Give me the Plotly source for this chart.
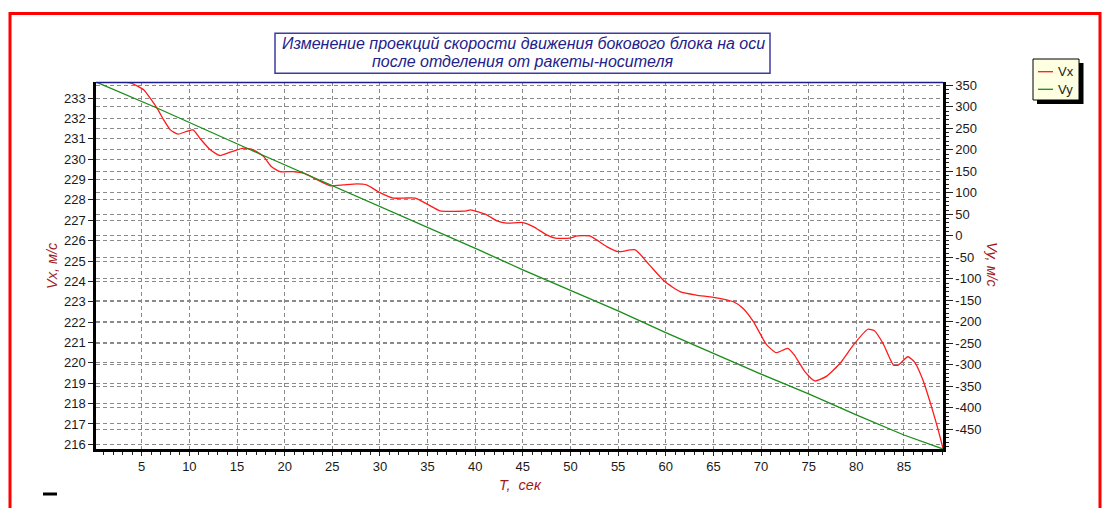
import plotly.graph_objects as go

# ---------------- data ----------------
t_vx = [3.1, 3.9, 5.2, 6.0, 6.7, 7.3, 8.0, 8.8, 9.7, 10.4, 11.1, 12.2, 13.2, 14.3,
        15.7, 16.7, 17.8, 18.6, 19.5, 20.9, 22.0, 23.4, 24.8, 26.2, 27.6, 28.6,
        30.0, 31.4, 32.5, 33.7, 35.1, 36.3, 39.1, 39.5, 41.2, 42.3, 43.3, 45.0,
        46.1, 47.5, 48.4, 49.9, 50.7, 52.0, 52.7, 53.8, 55.0, 56.8, 58.3, 59.9,
        61.5, 63.2, 65.0, 67.1, 68.1, 69.2, 70.6, 71.6, 72.8, 73.5, 74.6, 75.65,
        76.9, 78.3, 79.7, 81.2, 81.9, 82.8, 83.9, 84.4, 85.4, 86.1, 87.0, 87.9,
        88.6, 89.1]
vx = [233.79, 233.74, 233.41, 232.92, 232.43, 231.93, 231.44, 231.23, 231.36,
      231.44, 231.03, 230.46, 230.18, 230.35, 230.54, 230.46, 230.13, 229.64,
      229.39, 229.39, 229.31, 228.99, 228.69, 228.74, 228.79, 228.74, 228.36,
      228.09, 228.09, 228.09, 227.76, 227.46, 227.46, 227.51, 227.27, 226.97,
      226.86, 226.89, 226.69, 226.28, 226.12, 226.12, 226.23, 226.23, 226.05,
      225.71, 225.46, 225.55, 224.80, 223.99, 223.50, 223.33, 223.22, 223.00,
      222.68, 222.02, 220.88, 220.50, 220.71, 220.38, 219.57, 219.11, 219.35,
      219.98, 220.88, 221.65, 221.58, 220.96, 219.89, 219.89, 220.30, 220.05,
      219.15, 217.84, 216.70, 215.80]

t_vy = [0.2, 6.6, 16.4, 24.8, 32.8, 40.5, 45.0, 50.0, 55.0, 60.0, 65.0, 70.0,
        75.0, 80.0, 85.0, 88.8, 89.1]
vy = [357.9, 297.4, 200.3, 118.8, 41.3, -34.0, -79.1, -127.3, -174.6, -225.1,
      -274.0, -321.6, -367.8, -416.7, -463.3, -491.9, -495.9]

x_ticks = list(range(5, 90, 5))
left_ticks = list(range(216, 234))
right_ticks = list(range(-450, 351, 50))
right_ticktext = [str(v) for v in right_ticks]  # plain hyphen minus

title_lines = ["Изменение проекций скорости движения бокового блока на оси",
               "после отделения от ракеты-носителя"]

# ---------------- layout geometry ----------------
W, H = 1108, 508
L, R, T, B = 96, 943, 82, 449


def px(x):
    return (x - L) / (R - L)


def py(y):
    return (B - y) / (B - T)


fig = go.Figure()
fig.add_trace(go.Scatter(x=t_vx, y=vx, name="Vx", mode="lines",
                         line=dict(color="#ff1a1a", width=1.3, shape="spline", smoothing=0.5),
                         yaxis="y"))
fig.add_trace(go.Scatter(x=t_vy, y=vy, name="Vy", mode="lines",
                         line=dict(color="#1a8c1a", width=1.3),
                         yaxis="y2"))

grid_common = dict(showgrid=True, gridcolor="#8a8a8a", gridwidth=1, griddash="4px,3px",
                   zeroline=False, showline=True, linecolor="black", linewidth=2.5,
                   ticks="outside", tickcolor="#222", tickfont=dict(family="Liberation Sans", size=13, color="#1a1a1a"))

fig.update_layout(
    width=W, height=H,
    margin=dict(l=L, r=W - R, t=T, b=H - B),
    paper_bgcolor="white", plot_bgcolor="white",
    showlegend=False,
    xaxis=dict(range=[0.2, 89.1], tickmode="array", tickvals=x_ticks,
               ticklen=4, minor=dict(dtick=1, tick0=0, ticks="outside", ticklen=3,
                                     tickcolor="#222", showgrid=False),
               **grid_common),
    yaxis=dict(range=[215.77, 233.79], tickmode="array", tickvals=left_ticks,
               ticklen=5, **grid_common),
    yaxis2=dict(range=[-495.9, 357.9], overlaying="y", side="right", tickmode="array",
                tickvals=right_ticks, ticktext=right_ticktext, ticklen=7,
                minor=dict(dtick=10, tick0=0, ticks="outside", ticklen=3,
                           tickcolor="#222", showgrid=False),
                **grid_common),
)

shapes = []
# outer red frame
shapes.append(dict(type="rect", xref="paper", yref="paper",
                   x0=px(10), x1=px(1100), y0=py(530), y1=py(13.5),
                   line=dict(color="#ff0000", width=3), layer="above"))
# top border of plot area
shapes.append(dict(type="line", xref="paper", yref="paper",
                   x0=px(L), x1=px(R), y0=py(82.5), y1=py(82.5),
                   line=dict(color="#1c1c8c", width=1.5)))
# title box
shapes.append(dict(type="rect", xref="paper", yref="paper",
                   x0=px(275), x1=px(770), y0=py(73.3), y1=py(33.3),
                   line=dict(color="#3c3ca0", width=1.5), fillcolor="white"))
# legend shadow + box
shapes.append(dict(type="rect", xref="paper", yref="paper",
                   x0=px(1037), x1=px(1083.5), y0=py(104), y1=py(63),
                   line=dict(width=0), fillcolor="black"))
shapes.append(dict(type="rect", xref="paper", yref="paper",
                   x0=px(1033), x1=px(1079), y0=py(100), y1=py(59),
                   line=dict(color="black", width=1), fillcolor="#ffffe1"))
shapes.append(dict(type="line", xref="paper", yref="paper",
                   x0=px(1038), x1=px(1053), y0=py(71.7), y1=py(71.7),
                   line=dict(color="#ff1a1a", width=1.3)))
shapes.append(dict(type="line", xref="paper", yref="paper",
                   x0=px(1038), x1=px(1053), y0=py(89.3), y1=py(89.3),
                   line=dict(color="#1a8c1a", width=1.3)))
# small dash at bottom-left
shapes.append(dict(type="line", xref="paper", yref="paper",
                   x0=px(43), x1=px(57), y0=py(494), y1=py(494),
                   line=dict(color="black", width=3)))
fig.update_layout(shapes=shapes)

ann = []
title_font = dict(family="Liberation Sans", size=16, color="#22228a")
ann.append(dict(xref="paper", yref="paper", x=px(523), y=py(43.5), text="<i>" + title_lines[0] + "</i>",
                showarrow=False, font=title_font, xanchor="center", yanchor="middle"))
ann.append(dict(xref="paper", yref="paper", x=px(522), y=py(61.5), text="<i>" + title_lines[1] + "</i>",
                showarrow=False, font=title_font, xanchor="center", yanchor="middle"))
axis_title_font = dict(family="Liberation Sans", size=14.5, color="#a01818")
ann.append(dict(xref="paper", yref="paper", x=px(52), y=py(266), text="<i>Vx, м/с</i>",
                textangle=-90, showarrow=False, font=axis_title_font,
                xanchor="center", yanchor="middle"))
ann.append(dict(xref="paper", yref="paper", x=px(992), y=py(265), text="<i>Vy, м/с</i>",
                textangle=90, showarrow=False, font=axis_title_font,
                xanchor="center", yanchor="middle"))
ann.append(dict(xref="paper", yref="paper", x=px(520), y=py(485), text="<i>T,  сек</i>",
                showarrow=False, font=axis_title_font, xanchor="center", yanchor="middle"))
legend_font = dict(family="Liberation Sans", size=13, color="#222")
ann.append(dict(xref="paper", yref="paper", x=px(1056), y=py(71.7), text="Vx",
                showarrow=False, font=legend_font, xanchor="left", yanchor="middle"))
ann.append(dict(xref="paper", yref="paper", x=px(1056), y=py(89.3), text="Vy",
                showarrow=False, font=legend_font, xanchor="left", yanchor="middle"))
fig.update_layout(annotations=ann)

fig.write_html("out.html")
